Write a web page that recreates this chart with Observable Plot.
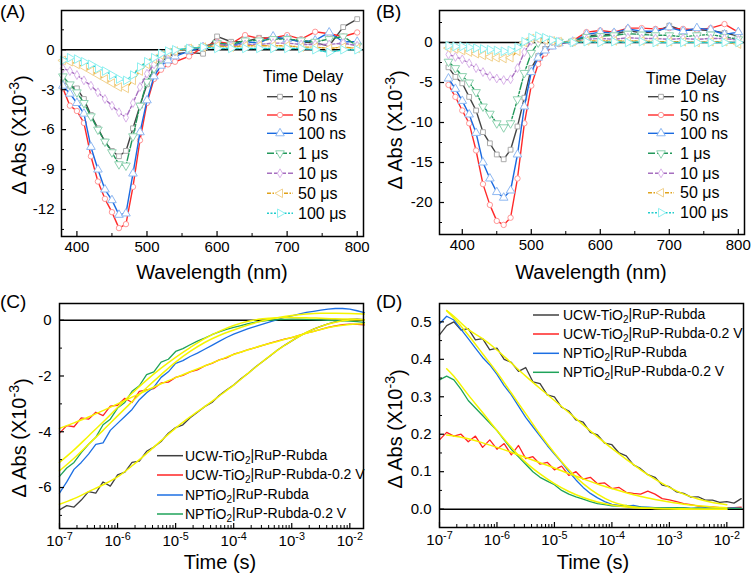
<!DOCTYPE html>
<html><head><meta charset="utf-8">
<script src="https://cdn.jsdelivr.net/npm/d3@7"></script>
<script src="https://cdn.jsdelivr.net/npm/@observablehq/plot@0.6"></script>
<style>
body{margin:0;background:#fff;}
#wrap{position:relative;width:752px;height:580px;overflow:hidden;background:#fff;}
#wrap > svg{position:absolute;}
</style></head><body><div id="wrap"></div>
<script>
// ---------- Panels A & B : transient spectra ----------
const wavelengths = [380,390,400,410,420,430,440,450,460,470,480,490,500,510,520,530,540,560,580,600,620,640,660,680,700,720,740,760,780,800];
const seriesNames = ["10 ns","50 ns","100 ns","1 μs","10 μs","50 μs","100 μs"];

const a10ns  = [-2.4,-2.7,-2.9,-3.7,-4.9,-5.9,-6.9,-7.6,-8.0,-7.6,-5.9,-4.2,-2.6,-1.6,-0.9,-0.5,-0.3,-0.2,-0.3,1.0,0.6,0.6,0.9,0.85,0.85,0.6,0.5,0.3,1.7,2.3];
const a50ns  = [-2.9,-4.2,-4.6,-5.5,-8.0,-9.9,-11.2,-12.2,-13.4,-13.1,-10.3,-6.8,-4.0,-2.2,-1.5,-1.1,-0.9,-0.5,0.2,0.6,0.45,1.1,0.85,0.9,1.1,0.8,1.35,1.2,1.0,1.3];
const a100ns = [-2.7,-3.3,-4.0,-4.8,-7.3,-9.0,-10.5,-11.3,-12.4,-12.3,-9.3,-6.2,-3.8,-2.0,-1.2,-0.8,-0.5,-0.1,0.2,0.4,0.3,0.6,0.5,1.0,0.8,0.6,0.7,1.3,0.6,0.6];
const a1us   = [-2.0,-2.6,-3.2,-4.0,-5.0,-6.0,-6.9,-7.7,-8.6,-8.7,-6.5,-4.2,-2.4,-1.4,-0.7,-0.3,-0.1,0.1,0.2,0.5,0.4,0.7,0.7,0.8,0.8,0.7,0.6,0.8,1.0,0.3];
const a10us  = [-1.4,-1.6,-1.9,-2.3,-2.7,-3.2,-3.7,-4.2,-4.7,-5.1,-4.0,-2.8,-1.8,-1.1,-0.6,-0.3,-0.1,0.1,0.2,0.4,0.3,0.4,0.4,0.5,0.5,0.4,0.4,0.4,0.5,0.3];
const a50us  = [-0.8,-0.9,-1.1,-1.3,-1.6,-1.9,-2.2,-2.5,-2.8,-2.9,-2.3,-1.6,-1.1,-0.7,-0.4,-0.2,-0.1,0.1,0.2,0.3,0.2,0.3,0.3,0.3,0.3,0.2,0.2,0.1,0.2,0.1];
const a100us = [-0.8,-0.6,-0.7,-0.9,-1.1,-1.4,-1.6,-1.9,-2.2,-2.3,-1.9,-1.3,-0.9,-0.6,-0.3,-0.1,0.0,0.1,0.2,0.1,0.1,0.1,0.1,0.1,0.1,0.1,0.0,-0.2,0.0,0.0];

const b10ns  = [-3.1,-4.3,-5.1,-6.8,-8.5,-11.2,-12.6,-14.0,-14.6,-13.4,-10.5,-6.9,-3.2,-1.7,-0.8,-0.3,0.0,0.2,0.8,1.0,1.0,1.5,1.2,1.3,2.1,1.5,1.6,1.5,1.2,0.8];
const b50ns  = [-5.3,-6.8,-8.5,-10.1,-13.5,-17.7,-20.3,-22.3,-22.8,-21.9,-17.0,-10.1,-5.4,-2.7,-1.4,-0.5,-0.2,0.2,1.3,1.5,1.3,1.8,1.8,1.7,1.8,1.7,1.6,1.8,2.3,1.3];
const b100ns = [-4.5,-5.8,-7.3,-9.0,-11.3,-15.0,-17.0,-18.7,-19.4,-18.5,-14.0,-8.0,-3.7,-1.9,-1.0,-0.5,-0.1,0.1,1.0,1.3,1.2,1.7,1.4,1.4,1.9,1.4,1.8,1.6,1.0,1.3];
const b1us   = [-2.4,-3.2,-4.2,-5.0,-6.2,-8.0,-8.9,-10.1,-10.6,-10.1,-7.1,-3.8,-1.3,0.0,0.3,0.2,0.1,0.1,0.7,0.8,0.9,1.1,1.0,0.9,0.9,0.7,0.9,1.0,0.7,0.4];
const b10us  = [-1.5,-1.8,-2.1,-2.6,-3.2,-3.7,-4.2,-4.5,-4.7,-4.6,-3.2,-1.2,0.2,0.5,0.3,0.2,0.1,0.1,0.4,0.5,0.4,0.6,0.5,0.5,0.4,0.5,0.4,0.5,0.5,0.3];
const b50us  = [-0.7,-0.8,-1.0,-1.2,-1.4,-1.6,-1.8,-1.9,-2.0,-1.9,-1.1,0.0,0.5,0.5,0.3,0.2,0.1,0.1,0.2,0.2,0.2,0.2,0.2,0.1,0.1,0.1,0.0,0.1,0.1,-0.2];
const b100us = [-0.4,-0.5,-0.5,-0.6,-0.7,-0.8,-0.9,-1.0,-1.1,-1.0,-0.6,0.1,0.6,0.8,0.6,0.3,0.1,0.0,0.1,0.0,0.1,0.0,0.1,0.0,0.0,0.0,0.0,0.0,0.0,0.0];

const specXTicks = [400,500,600,700,800];
const specXMinor = [450,550,650,750];
const aYTicks = [-12,-9,-6,-3,0];
const aYMinor = [-13.5,-10.5,-7.5,-4.5,-1.5,1.5];
const bYTicks = [-20,-15,-10,-5,0];
const bYMinor = [-22.5,-17.5,-12.5,-7.5,-2.5,2.5];

// ---------- Panels C & D : kinetics (time as log10 seconds) ----------
const logT = [-7,-6.875,-6.75,-6.625,-6.5,-6.375,-6.25,-6.125,-6,-5.875,-5.75,-5.625,-5.5,-5.375,-5.25,-5.125,-5,-4.875,-4.75,-4.625,-4.5,-4.375,-4.25,-4.125,-4,-3.875,-3.75,-3.625,-3.5,-3.375,-3.25,-3.125,-3,-2.875,-2.75,-2.625,-2.5,-2.375,-2.25,-2.125,-2,-1.875,-1.75];
const kineticNames = ["UCW-TiO2|RuP-Rubda","UCW-TiO2|RuP-Rubda-0.2 V","NPTiO2|RuP-Rubda","NPTiO2|RuP-Rubda-0.2 V"];

const cGray  = [-6.80,-6.65,-6.70,-6.45,-6.15,-6.20,-5.80,-5.95,-5.55,-5.45,-5.10,-5.05,-4.70,-4.55,-4.35,-4.05,-3.85,-3.75,-3.50,-3.30,-3.10,-2.95,-2.70,-2.50,-2.32,-2.10,-1.90,-1.68,-1.48,-1.28,-1.08,-0.90,-0.74,-0.58,-0.44,-0.32,-0.22,-0.13,-0.06,-0.01,0.03,0.04,0.02];
const cRed   = [-4.05,-3.78,-3.82,-3.50,-3.55,-3.30,-3.42,-3.08,-3.05,-2.80,-2.95,-2.55,-2.50,-2.45,-2.25,-2.22,-2.05,-1.98,-1.85,-1.78,-1.64,-1.55,-1.42,-1.35,-1.22,-1.14,-1.05,-0.98,-0.90,-0.82,-0.75,-0.68,-0.62,-0.54,-0.46,-0.40,-0.33,-0.26,-0.20,-0.16,-0.14,-0.15,-0.17];
const cBlue  = [-6.20,-5.80,-5.35,-5.10,-4.80,-4.45,-4.40,-3.95,-3.70,-3.45,-3.20,-2.85,-2.60,-2.40,-2.05,-1.85,-1.55,-1.45,-1.30,-1.18,-1.04,-0.90,-0.76,-0.62,-0.50,-0.40,-0.30,-0.22,-0.14,-0.06,0.02,0.10,0.16,0.22,0.28,0.32,0.36,0.40,0.42,0.42,0.40,0.34,0.27];
const cGreen = [-5.60,-5.30,-5.10,-4.75,-4.45,-4.20,-3.75,-3.55,-3.15,-2.95,-2.55,-2.35,-1.95,-1.85,-1.50,-1.40,-1.12,-1.02,-0.88,-0.75,-0.64,-0.52,-0.42,-0.33,-0.26,-0.19,-0.12,-0.07,-0.03,0.00,0.02,0.03,0.04,0.04,0.03,0.02,0.01,0.00,-0.01,-0.02,-0.03,-0.05,-0.08];

const cFitT = [-7,-6.75,-6.5,-6.25,-6,-5.75,-5.5,-5.25,-5,-4.75,-4.5,-4.25,-4,-3.75,-3.5,-3.25,-3,-2.75,-2.5,-2.25,-2,-1.75];
const cGrayFit  = [-6.60,-6.40,-6.15,-5.90,-5.62,-5.22,-4.78,-4.32,-3.87,-3.47,-3.10,-2.72,-2.33,-1.90,-1.48,-1.08,-0.74,-0.44,-0.22,-0.07,0.01,0.02];
const cRedFit   = [-3.88,-3.68,-3.47,-3.24,-3.00,-2.76,-2.52,-2.28,-2.06,-1.85,-1.64,-1.43,-1.23,-1.06,-0.90,-0.76,-0.62,-0.47,-0.33,-0.22,-0.15,-0.13];
const cBlueFit  = [-5.40,-4.95,-4.45,-3.95,-3.43,-2.92,-2.42,-1.95,-1.50,-1.12,-0.80,-0.55,-0.35,-0.17,-0.02,0.09,0.17,0.22,0.25,0.25,0.24,0.22];
const cGreenFit = [-5.10,-4.65,-4.15,-3.65,-3.13,-2.62,-2.15,-1.72,-1.33,-0.98,-0.66,-0.40,-0.19,-0.04,0.05,0.09,0.10,0.09,0.07,0.05,0.04,0.02];

const dGray  = [0.465,0.490,0.500,0.478,0.482,0.452,0.455,0.425,0.430,0.400,0.392,0.368,0.378,0.340,0.335,0.305,0.300,0.272,0.262,0.238,0.232,0.205,0.198,0.176,0.172,0.150,0.142,0.118,0.108,0.092,0.085,0.064,0.060,0.046,0.042,0.032,0.033,0.024,0.024,0.018,0.020,0.016,0.028];
const dRed   = [0.185,0.205,0.195,0.200,0.180,0.195,0.165,0.185,0.160,0.175,0.145,0.170,0.135,0.140,0.120,0.125,0.105,0.115,0.090,0.100,0.080,0.085,0.068,0.070,0.055,0.058,0.045,0.042,0.040,0.048,0.040,0.028,0.025,0.020,0.015,0.012,0.008,0.006,0.006,0.004,0.003,0.004,0.005];
const dBlue  = [0.495,0.515,0.505,0.480,0.455,0.430,0.405,0.385,0.360,0.330,0.305,0.275,0.245,0.220,0.195,0.170,0.147,0.125,0.100,0.078,0.058,0.042,0.030,0.020,0.013,0.010,0.008,0.010,0.006,0.005,0.004,0.003,0.003,0.002,0.003,0.002,0.002,0.003,0.002,0.002,0.002,0.003,0.002];
const dGreen = [0.345,0.355,0.345,0.320,0.290,0.270,0.250,0.230,0.210,0.185,0.160,0.140,0.120,0.100,0.085,0.075,0.065,0.050,0.040,0.033,0.027,0.020,0.015,0.012,0.009,0.008,0.010,0.006,0.005,0.004,0.004,0.003,0.003,0.004,0.003,0.002,0.003,0.002,0.002,0.003,0.002,0.002,0.002];

const dFitT = [-6.875,-6.75,-6.5,-6.25,-6,-5.75,-5.5,-5.25,-5,-4.75,-4.5,-4.25,-4,-3.75,-3.5,-3.25,-3,-2.75,-2.5,-2.25,-2];
const dGrayFit  = [0.53,0.515,0.48,0.455,0.425,0.39,0.355,0.322,0.29,0.258,0.225,0.193,0.162,0.133,0.105,0.08,0.058,0.04,0.027,0.018,0.012];
const dRedFit   = [0.198,0.195,0.188,0.177,0.165,0.152,0.138,0.124,0.11,0.095,0.081,0.067,0.055,0.044,0.034,0.026,0.019,0.013,0.009,0.006,0.004];
const dBlueFit  = [0.53,0.51,0.465,0.415,0.365,0.31,0.255,0.2,0.15,0.105,0.068,0.04,0.02,0.009,0.004,0.002,0.001,0.001,0.0,0.0,0.0];
const dGreenFit = [0.375,0.355,0.305,0.258,0.21,0.165,0.125,0.094,0.068,0.047,0.031,0.019,0.011,0.006,0.003,0.002,0.001,0.0,0.0,0.0,0.0];

const logXTicks = [1e-7,1e-6,1e-5,1e-4,1e-3,1e-2];
const cYTicks = [-6,-4,-2,0];
const cYMinor = [-7,-5,-3,-1];
const dYTicks = [0,0.1,0.2,0.3,0.4,0.5];
const dYMinor = [0.05,0.15,0.25,0.35,0.45];

// ---------- styling ----------
const FONT = "'Liberation Sans', Arial, Helvetica, sans-serif";
const lineColors   = ["#444444","#ff2a2a","#1a6ae0","#22985a","#a66fbf","#e0a21a","#22cccc"];
const markerColors = ["#aaaaaa","#ff9696","#8eb8f2","#8ed2b0","#dab4ea","#f2d28e","#8ef0f0"];
const dashes = [null,null,null,"7,2,2,2","5,2","4,1.5,1.5,1.5","2,1.5"];
const symbols = ["square","circle","triangle","triangle","diamond","triangle","triangle"];
const rotations = [0,0,0,180,0,-90,90];
const kinColors = ["#404040","#ff2424","#1c6fe3","#1fa35a"];
const FIT = "#f5f500";

const wrap = document.getElementById("wrap");
function place(svg, left, top) { svg.style.left = left + "px"; svg.style.top = top + "px"; wrap.appendChild(svg); }
const W = 376, H = 290;

function spectrum(vals, cfg) {
  const fw = W - cfg.ml - cfg.mr, fh = H - cfg.mt - cfg.mb;
  const marks = [Plot.ruleY([0], {stroke: "black", strokeWidth: 1.5})];
  seriesNames.forEach((name, k) => {
    const rows = wavelengths.map((w, i) => ({w, v: vals[k][i]}));
    marks.push(Plot.line(rows, {x: "w", y: "v", stroke: lineColors[k], strokeWidth: 1.4, strokeDasharray: dashes[k]}));
    marks.push(Plot.dot(rows, {x: "w", y: "v", symbol: symbols[k], rotate: rotations[k], r: k >= 2 && k !== 4 ? 3.2 : 2.7, fill: "white", stroke: markerColors[k], strokeWidth: 1}));
  });
  marks.push(
    Plot.frame({stroke: "black", strokeWidth: 1.5}),
    Plot.tickX(specXTicks, {x: d => d, insetTop: fh - 5, stroke: "black", strokeWidth: 1.2}),
    Plot.tickX(specXMinor, {x: d => d, insetTop: fh - 3, stroke: "black", strokeWidth: 1}),
    Plot.tickY(cfg.yTicks, {y: d => d, insetRight: fw - 5, stroke: "black", strokeWidth: 1.2}),
    Plot.tickY(cfg.yMinor, {y: d => d, insetRight: fw - 3, stroke: "black", strokeWidth: 1}),
    Plot.axisX({ticks: specXTicks, tickSize: 0, tickPadding: 5, fontSize: 15, tickFormat: d => String(d), label: null}),
    Plot.axisY({ticks: cfg.yTicks, tickSize: 0, tickPadding: 7, fontSize: 15, tickFormat: d => String(d), label: null})
  );
  return Plot.plot({
    width: W, height: H, marginLeft: cfg.ml, marginRight: cfg.mr, marginTop: cfg.mt, marginBottom: cfg.mb,
    x: {domain: cfg.xDomain, label: null}, y: {domain: cfg.yDomain, label: null},
    style: {fontFamily: FONT, color: "black", background: "transparent", overflow: "visible"},
    marks
  });
}

function kinetics(raws, fits, fitT, cfg) {
  const fw = W - cfg.ml - cfg.mr, fh = H - cfg.mt - cfg.mb;
  const minor = d3.scaleLog().domain(cfg.xDomain).ticks().filter(t => !logXTicks.some(m => Math.abs(m - t) / m < 1e-6));
  const marks = [Plot.ruleY([0], {stroke: "black", strokeWidth: 1.5})];
  raws.forEach((vals, k) => {
    const rows = logT.map((e, i) => ({t: Math.pow(10, e), v: vals[i]}));
    marks.push(Plot.line(rows, {x: "t", y: "v", stroke: kinColors[k], strokeWidth: 1.3}));
  });
  fits.forEach((vals, k) => {
    const rows = fitT[k].map((e, i) => ({t: Math.pow(10, e), v: vals[i]}));
    marks.push(Plot.line(rows, {x: "t", y: "v", stroke: FIT, strokeWidth: 1.5, curve: "catmull-rom"}));
  });
  marks.push(
    Plot.frame({stroke: "black", strokeWidth: 1.5}),
    Plot.tickX(logXTicks, {x: d => d, insetTop: fh - 5, stroke: "black", strokeWidth: 1.2}),
    Plot.tickX(minor, {x: d => d, insetTop: fh - 3, stroke: "black", strokeWidth: 1}),
    Plot.tickY(cfg.yTicks, {y: d => d, insetRight: fw - 5, stroke: "black", strokeWidth: 1.2}),
    Plot.tickY(cfg.yMinor, {y: d => d, insetRight: fw - 3, stroke: "black", strokeWidth: 1}),
    Plot.axisX({ticks: logXTicks, tickSize: 0, tickPadding: 7, fontSize: 15, tickFormat: d => "10^" + Math.round(Math.log10(d)), label: null}),
    Plot.axisY({ticks: cfg.yTicks, tickSize: 0, tickPadding: 8, fontSize: 15, tickFormat: cfg.yFormat, label: null})
  );
  const svg = Plot.plot({
    width: W, height: H, marginLeft: cfg.ml, marginRight: cfg.mr, marginTop: cfg.mt, marginBottom: cfg.mb,
    x: {type: "log", domain: cfg.xDomain, label: null}, y: {domain: cfg.yDomain, label: null},
    style: {fontFamily: FONT, color: "black", background: "transparent", overflow: "visible"},
    marks
  });
  d3.select(svg).selectAll("text").each(function () {
    const s = this.textContent;
    if (s.startsWith("10^")) {
      const e = s.slice(3).replace("−", "-");
      this.textContent = "";
      d3.select(this).append("tspan").text("10");
      d3.select(this).append("tspan").attr("dy", "-0.55em").attr("font-size", "0.72em").text(e);
    }
  });
  return svg;
}

place(spectrum([a10ns,a50ns,a100ns,a1us,a10us,a50us,a100us],
  {ml: 61, mr: 13, mt: 10, mb: 54, xDomain: [378, 809], yDomain: [-14.03, 2.95], yTicks: aYTicks, yMinor: aYMinor}), 0, 0);
place(spectrum([b10ns,b50ns,b100ns,b1us,b10us,b50us,b100us],
  {ml: 63, mr: 8, mt: 10, mb: 56, xDomain: [367, 809], yDomain: [-24, 4], yTicks: bYTicks, yMinor: bYMinor}), 376, 0);
place(kinetics([cGray,cRed,cBlue,cGreen], [cGrayFit,cRedFit,cBlueFit,cGreenFit], [cFitT,cFitT,cFitT,cFitT],
  {ml: 59, mr: 13, mt: 13, mb: 52, xDomain: [1e-7, 0.0172], yDomain: [-7.47, 0.6], yTicks: cYTicks, yMinor: cYMinor, yFormat: d => String(d)}), 0, 290);
place(kinetics([dGray,dRed,dBlue,dGreen], [dGrayFit,dRedFit,dBlueFit,dGreenFit], [dFitT,dFitT,dFitT,dFitT],
  {ml: 63, mr: 9, mt: 13, mb: 53, xDomain: [1e-7, 0.0195], yDomain: [-0.049, 0.549], yTicks: dYTicks, yMinor: dYMinor, yFormat: d3.format(".1f")}), 376, 290);

// ---------- overlay: panel letters, axis titles, legends ----------
const ov = d3.select(wrap).append("svg").attr("width", 752).attr("height", 580)
  .style("left", "0px").style("top", "0px").style("font-family", FONT).attr("fill", "black");

[["(A)", 0, 18], ["(B)", 376, 18], ["(C)", 0, 308], ["(D)", 376, 308]].forEach(([t, x, y]) =>
  ov.append("text").attr("x", x).attr("y", y).attr("font-size", 19).text(t));

function yTitle(cx, cy) {
  const t = ov.append("text").attr("transform", `translate(${cx},${cy}) rotate(-90)`)
    .attr("text-anchor", "middle").attr("dy", "0.35em").attr("font-size", 20);
  t.append("tspan").text("Δ Abs (X10");
  t.append("tspan").attr("dy", "-0.5em").attr("font-size", 14).text("-3");
  t.append("tspan").attr("dy", "0.5em").text(")");
}
yTitle(19, 135); yTitle(395, 130); yTitle(19, 438); yTitle(395, 429);

function xTitle(cx, y, s) { ov.append("text").attr("x", cx).attr("y", y).attr("text-anchor", "middle").attr("font-size", 20).text(s); }
xTitle(212, 279, "Wavelength (nm)"); xTitle(591, 279, "Wavelength (nm)");
xTitle(220, 569, "Time (s)"); xTitle(593, 569, "Time (s)");

function specLegend(tx, ty, lx, textX, rows) {
  ov.append("text").attr("x", tx).attr("y", ty).attr("font-size", 16).text("Time Delay");
  seriesNames.forEach((name, k) => {
    const y = rows[k];
    ov.append("line").attr("x1", lx).attr("x2", lx + 26).attr("y1", y).attr("y2", y)
      .attr("stroke", lineColors[k]).attr("stroke-width", 1.4).attr("stroke-dasharray", dashes[k]);
    const r = k >= 2 && k !== 4 ? 3.2 : 2.7;
    const typ = {square: d3.symbolSquare, circle: d3.symbolCircle, triangle: d3.symbolTriangle, diamond: d3.symbolDiamond}[symbols[k]];
    ov.append("path").attr("d", d3.symbol(typ, Math.PI * r * r)())
      .attr("transform", `translate(${lx + 13},${y}) rotate(${rotations[k]})`)
      .attr("fill", "white").attr("stroke", markerColors[k]).attr("stroke-width", 1);
    ov.append("text").attr("x", textX).attr("y", y).attr("dy", "0.36em").attr("font-size", 16).text(name);
  });
}
specLegend(263, 82, 267, 298, [96.7,115,133.3,153.3,173.3,193.3,213.3]);
specLegend(646, 84, 648, 680, [96.7,115,133.3,153.3,173.3,192.7,212.7]);

function kinLegend(lx, textX, rows) {
  kineticNames.forEach((name, k) => {
    const y = rows[k];
    ov.append("line").attr("x1", lx).attr("x2", lx + 26).attr("y1", y).attr("y2", y)
      .attr("stroke", kinColors[k]).attr("stroke-width", 1.5);
    const t = ov.append("text").attr("x", textX).attr("y", y).attr("dy", "0.36em").attr("font-size", 14);
    const i = name.indexOf("TiO2");
    t.append("tspan").text(name.slice(0, i + 3));
    t.append("tspan").attr("font-size", 10).attr("dy", "0.3em").text("2");
    t.append("tspan").attr("dy", "-0.3em").text(name.slice(i + 4));
  });
}
kinLegend(157, 185, [455.7,475,495,514]);
kinLegend(533, 563, [315,334,353.3,372.3]);
</script></body></html>
